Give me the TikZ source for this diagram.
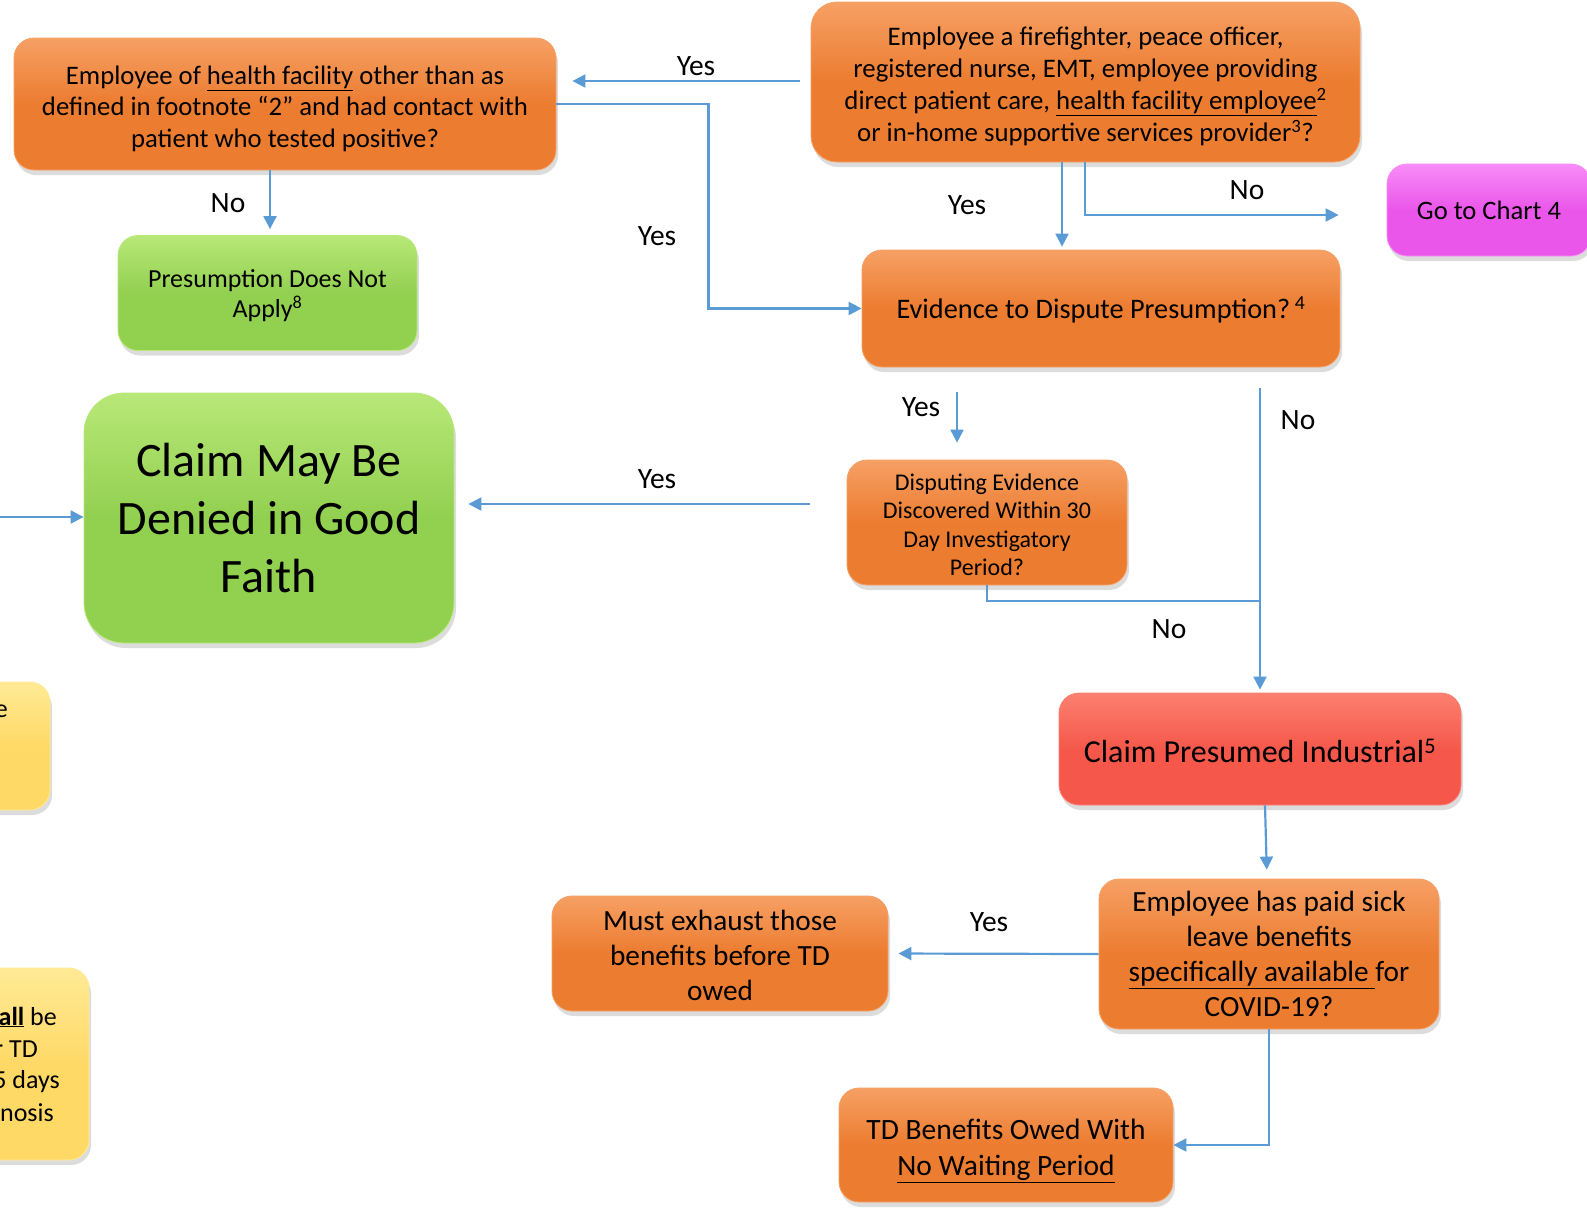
\documentclass[tikz,border=0pt]{standalone}
\usepackage{fontspec}
\setmainfont{Carlito}
\usetikzlibrary{arrows.meta,shadows,calc}
\definecolor{org}{RGB}{236,124,48}
\definecolor{orgl}{RGB}{246,160,100}
\definecolor{grn}{RGB}{146,208,80}
\definecolor{grnl}{RGB}{184,232,120}
\definecolor{mag}{RGB}{234,86,234}
\definecolor{magl}{RGB}{248,140,248}
\definecolor{rd}{RGB}{245,88,74}
\definecolor{rdl}{RGB}{252,128,112}
\definecolor{ylw}{RGB}{255,217,102}
\definecolor{ylwl}{RGB}{255,234,150}
\definecolor{lnk}{RGB}{91,155,213}
\tikzset{
  box/.style={rounded corners=20pt, inner sep=0pt, align=center, anchor=center,
    drop shadow={opacity=0.28,shadow xshift=2pt,shadow yshift=-5pt}},
  obox/.style={box, top color=orgl, bottom color=org, middle color=org, draw=orgl, line width=0.8pt},
  gbox/.style={box, top color=grnl, bottom color=grn, middle color=grn, draw=grnl, line width=0.8pt},
  mbox/.style={box, top color=magl, bottom color=mag, middle color=mag, draw=magl, line width=0.8pt},
  rbox/.style={box, top color=rdl, bottom color=rd, middle color=rd, draw=rdl, line width=0.8pt},
  ybox/.style={box, top color=ylwl, bottom color=ylw, middle color=ylw, draw=ylwl, line width=0.8pt},
  arr/.style={draw=lnk, line width=2.2pt, -{Triangle[length=13pt,width=13pt]}},
  joinline/.style={draw=lnk, line width=1.3pt},
  lbl/.style={font=\fontsize{29.5}{34}\selectfont, inner sep=0pt, anchor=center},
  frag/.style={font=\fontsize{26}{32}\selectfont, inner sep=0pt, anchor=east}
}
\begin{document}
\begin{tikzpicture}[x=1pt,y=-1pt]
\useasboundingbox (0,0) rectangle (1587,1211);
\path[clip] (0,0) rectangle (1587,1211);

% yellow boxes (cut off at left)
\node[ybox, minimum width=260pt, minimum height=128pt] (y1) at (-80,746) {};
\node[ybox, minimum width=338pt, minimum height=192pt] (y2) at (-80,1064) {};
\node[frag] (y1a) at (8,711) {e};
\node[frag] (y2a) at (57,1017) {\textbf{\underline{all}} be};
\node[frag] (y2b) at (38,1049) {r TD};
\node[frag] (y2c) at (60,1082) {5 days};
\node[frag] (y2d) at (54,1113) {nosis};

% boxes
\node[obox, rounded corners=26pt, minimum width=549pt, minimum height=160pt,
  font=\fontsize{26.8}{32}\selectfont] (ff) at (1085.5,82)
  {\rule{0pt}{28pt}Employee a firefighter, peace officer,\\registered nurse, EMT, employee providing\\
   direct patient care, \underline{health facility employee}\textsuperscript{2}\\
   or in-home supportive services provider\textsuperscript{3}?};
\node[obox, minimum width=542pt, minimum height=132pt,
  font=\fontsize{26.7}{31.6}\selectfont] (hf) at (285,104)
  {\rule{0pt}{28pt}Employee of \underline{health facility} other than as\\defined in footnote “2” and had contact with\\patient who tested positive?};
\node[mbox, minimum width=204pt, minimum height=92pt,
  font=\fontsize{26.6}{30}\selectfont] (chart4) at (1489,210) {Go to Chart 4};
\node[obox, minimum width=478pt, minimum height=117pt,
  font=\fontsize{28.3}{33}\selectfont] (evid) at (1101,308.5)
  {\rule{0pt}{25pt}Evidence to Dispute Presumption?\,\textsuperscript{4}};
\node[gbox, minimum width=299pt, minimum height=115pt,
  font=\fontsize{26}{29.5}\selectfont] (pdna) at (267.5,293)
  {\rule{0pt}{23pt}Presumption Does Not\\Apply\textsuperscript{8}};
\node[gbox, rounded corners=40pt, minimum width=370pt, minimum height=250pt,
  font=\fontsize{48}{58}\selectfont] (deny) at (269,518)
  {Claim May Be\\Denied in Good\\Faith};
\node[obox, minimum width=280pt, minimum height=125pt,
  font=\fontsize{24}{28.6}\selectfont] (disp) at (987,522.5)
  {\rule{0pt}{21pt}Disputing Evidence\\Discovered Within 30\\Day Investigatory\\Period?};
\node[rbox, minimum width=402pt, minimum height=112pt,
  font=\fontsize{32}{36}\selectfont] (cpi) at (1260,749)
  {\rule{0pt}{27pt}Claim Presumed Industrial\textsuperscript{5}};
\node[obox, minimum width=340pt, minimum height=150pt,
  font=\fontsize{29.3}{35}\selectfont] (sick) at (1269,954)
  {Employee has paid sick\\leave benefits\\\underline{specifically available }for\\COVID-19?};
\node[obox, minimum width=336pt, minimum height=115pt,
  font=\fontsize{29.3}{35}\selectfont] (must) at (720,953.5)
  {\rule{0pt}{25pt}Must exhaust those\\benefits before TD\\owed};
\node[obox, minimum width=334pt, minimum height=114pt,
  font=\fontsize{29.5}{36}\selectfont] (td) at (1006,1145)
  {\rule{0pt}{32pt}TD Benefits Owed With\\\underline{No Waiting Period}};

% connectors
\draw[arr, shorten <=11pt, shorten >=16pt] (ff.west |- 0,81) -- (hf.east |- 0,81);
\draw[arr] (hf.east) -- ++(152,0) |- (evid.west);
\draw[arr, shorten >=6pt] (270,0 |- hf.south) -- (270,0 |- pdna.north);
\draw[arr, shorten >=3pt] (1062,0 |- ff.south) -- (1062,0 |- evid.north);
\draw[arr, shorten >=48pt] (1085,0 |- ff.south) |- (chart4.west |- 0,215);
\draw[arr, shorten <=25pt, shorten >=17pt] (957,0 |- evid.south) -- (957,0 |- disp.north);
\draw[arr, shorten <=21pt, shorten >=3pt] (1260,0 |- evid.south) -- (cpi.north);
\coordinate (jn) at (1260,601);
\draw[joinline] (disp.south) |- (jn);
\draw[arr, shorten <=37pt, shorten >=14pt] (disp.west |- 0,504) -- (deny.east |- 0,504);
\draw[arr, shorten >=9pt] (1265,0 |- cpi.south) -- (1267,0 |- sick.north);
\draw[arr, shorten >=10pt] (sick.west) -- (must.east);
\draw[arr] (sick.south) |- (td.east);
\coordinate (lin) at (-5,517);
\draw[arr] (lin) -- (deny.west |- lin);

% labels
\node[lbl] (l1) at (696,66) {Yes};
\node[lbl] (l2) at (657,236) {Yes};
\node[lbl] (l3) at (228,203) {No};
\node[lbl] (l4) at (967,205) {Yes};
\node[lbl] (l5) at (1247,190) {No};
\node[lbl] (l6) at (921,407) {Yes};
\node[lbl] (l7) at (1298,420) {No};
\node[lbl] (l8) at (1169,629) {No};
\node[lbl] (l9) at (657,479) {Yes};
\node[lbl] (l10) at (989,922) {Yes};
\end{tikzpicture}
\end{document}
